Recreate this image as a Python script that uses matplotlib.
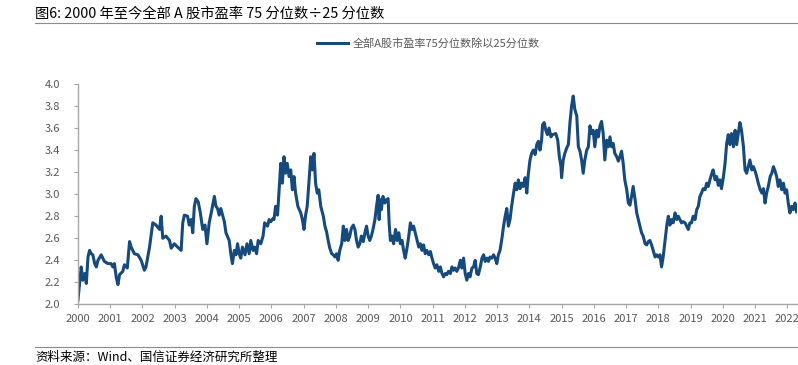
import matplotlib.pyplot as plt
from matplotlib.lines import Line2D

plt.rcParams['font.family'] = ['Noto Sans CJK SC', 'DejaVu Sans']

# decimal year, ratio
years_a = [2000.00, 2000.05, 2000.10, 2000.15, 2000.21, 2000.26, 2000.31, 2000.36, 2000.41, 2000.46,
           2000.52, 2000.57, 2000.62, 2000.72, 2000.82, 2000.93, 2001.03, 2001.08, 2001.13, 2001.19,
           2001.24, 2001.29, 2001.39, 2001.44, 2001.53, 2001.60, 2001.65, 2001.70, 2001.75, 2001.86,
           2001.96, 2002.06, 2002.11, 2002.22, 2002.32, 2002.42, 2002.53, 2002.58, 2002.63, 2002.73,
           2002.84, 2002.89, 2002.99, 2003.09, 2003.20, 2003.25, 2003.30, 2003.40, 2003.45, 2003.51,
           2003.56, 2003.61, 2003.66, 2003.73, 2003.79, 2003.87, 2003.94, 2004.00, 2004.07, 2004.14,
           2004.23, 2004.28, 2004.33, 2004.38, 2004.43, 2004.54, 2004.59, 2004.69, 2004.74, 2004.79,
           2004.85, 2004.90, 2004.95, 2005.00, 2005.05, 2005.10, 2005.18, 2005.24, 2005.31, 2005.36,
           2005.43, 2005.48, 2005.54, 2005.59, 2005.67, 2005.74, 2005.79, 2005.88, 2005.93, 2005.98,
           2006.05, 2006.08, 2006.13, 2006.19, 2006.24, 2006.29, 2006.34, 2006.39, 2006.44, 2006.49,
           2006.55, 2006.60, 2006.65, 2006.70, 2006.75, 2006.82, 2006.91, 2006.96, 2007.01, 2007.06,
           2007.11, 2007.16, 2007.22, 2007.27, 2007.32, 2007.37, 2007.42, 2007.47, 2007.53]
ratio_a = [2.04, 2.19, 2.34, 2.22, 2.28, 2.19, 2.43, 2.49, 2.46, 2.45,
           2.37, 2.34, 2.40, 2.45, 2.39, 2.37, 2.37, 2.34, 2.37, 2.24,
           2.18, 2.27, 2.30, 2.36, 2.33, 2.57, 2.52, 2.49, 2.46, 2.45,
           2.40, 2.31, 2.34, 2.52, 2.74, 2.72, 2.68, 2.80, 2.60, 2.62,
           2.58, 2.51, 2.55, 2.52, 2.49, 2.74, 2.81, 2.80, 2.72, 2.77,
           2.65, 2.89, 2.96, 2.93, 2.84, 2.68, 2.72, 2.55, 2.74, 2.84,
           2.98, 2.89, 2.87, 2.81, 2.87, 2.75, 2.65, 2.58, 2.46, 2.37,
           2.49, 2.45, 2.55, 2.46, 2.42, 2.52, 2.45, 2.55, 2.46, 2.58,
           2.49, 2.52, 2.46, 2.58, 2.55, 2.62, 2.74, 2.71, 2.77, 2.75,
           2.78, 2.77, 2.89, 2.81, 3.04, 3.28, 3.10, 3.34, 3.19, 3.28,
           3.16, 3.22, 3.04, 3.16, 3.01, 2.89, 2.83, 2.77, 2.68, 2.81,
           2.89, 3.10, 3.34, 3.22, 3.37, 3.10, 3.01, 3.04, 2.89]

years_b = [2007.61, 2007.66, 2007.71, 2007.76, 2007.81, 2007.87, 2007.92, 2007.97, 2008.02, 2008.07,
           2008.12, 2008.18, 2008.23, 2008.28, 2008.33, 2008.38, 2008.43, 2008.48, 2008.54, 2008.59,
           2008.64, 2008.69, 2008.74, 2008.79, 2008.85, 2008.90, 2008.95, 2009.00, 2009.05, 2009.10,
           2009.15, 2009.21, 2009.26, 2009.31, 2009.34, 2009.38, 2009.41, 2009.46, 2009.52, 2009.57,
           2009.62, 2009.65, 2009.69, 2009.74, 2009.79, 2009.85, 2009.90, 2009.95, 2010.00, 2010.05,
           2010.10, 2010.15, 2010.21, 2010.26, 2010.31, 2010.36, 2010.41, 2010.46, 2010.52, 2010.57,
           2010.62, 2010.67, 2010.72, 2010.77, 2010.82, 2010.88, 2010.93, 2010.98, 2011.03, 2011.08,
           2011.13, 2011.19, 2011.24, 2011.29, 2011.34, 2011.39, 2011.44, 2011.49, 2011.55, 2011.60,
           2011.65, 2011.70, 2011.75, 2011.80, 2011.86, 2011.91, 2011.96, 2012.01, 2012.06, 2012.11,
           2012.16, 2012.22, 2012.27, 2012.32, 2012.37, 2012.42, 2012.47, 2012.53, 2012.58, 2012.63,
           2012.68, 2012.73, 2012.78, 2012.84, 2012.89, 2012.94, 2012.99, 2013.04, 2013.09, 2013.14,
           2013.20, 2013.25, 2013.30, 2013.35, 2013.40, 2013.45, 2013.51, 2013.56, 2013.61, 2013.66,
           2013.71, 2013.76, 2013.81, 2013.87, 2013.92, 2013.97, 2014.02, 2014.07, 2014.12, 2014.18,
           2014.23, 2014.28, 2014.33, 2014.38, 2014.41, 2014.46, 2014.51, 2014.56, 2014.61, 2014.67,
           2014.72]
ratio_b = [2.80, 2.71, 2.66, 2.58, 2.51, 2.46, 2.45, 2.43, 2.46, 2.40,
           2.49, 2.55, 2.71, 2.58, 2.68, 2.58, 2.62, 2.69, 2.72, 2.68,
           2.58, 2.52, 2.55, 2.62, 2.57, 2.65, 2.71, 2.62, 2.58, 2.62,
           2.68, 2.77, 2.89, 2.99, 2.77, 2.95, 2.86, 2.98, 2.92, 2.95,
           2.96, 2.74, 2.58, 2.62, 2.55, 2.68, 2.58, 2.65, 2.55, 2.58,
           2.49, 2.42, 2.52, 2.62, 2.74, 2.68, 2.71, 2.65, 2.58, 2.52,
           2.55, 2.49, 2.54, 2.46, 2.49, 2.45, 2.48, 2.42, 2.37, 2.33,
           2.36, 2.30, 2.34, 2.28, 2.25, 2.28, 2.27, 2.30, 2.28, 2.34,
           2.31, 2.33, 2.30, 2.33, 2.40, 2.33, 2.42, 2.28, 2.22, 2.28,
           2.25, 2.33, 2.34, 2.40, 2.28, 2.27, 2.33, 2.42, 2.45, 2.39,
           2.42, 2.39, 2.43, 2.42, 2.45, 2.42, 2.37, 2.45, 2.49, 2.58,
           2.71, 2.80, 2.87, 2.71, 2.77, 2.89, 3.01, 3.10, 3.04, 3.13,
           3.05, 3.10, 3.07, 3.15, 3.01, 3.19, 3.31, 3.37, 3.40, 3.36,
           3.45, 3.48, 3.40, 3.49, 3.63, 3.65, 3.58, 3.54, 3.60, 3.52,
           3.54]

years_c = [2014.82, 2014.88, 2014.93, 2014.98, 2015.00, 2015.05, 2015.10, 2015.16, 2015.21, 2015.26,
           2015.31, 2015.36, 2015.41, 2015.47, 2015.52, 2015.57, 2015.62, 2015.67, 2015.72, 2015.78,
           2015.83, 2015.88, 2015.93, 2015.98, 2016.03, 2016.09, 2016.14, 2016.19, 2016.24, 2016.29,
           2016.34, 2016.40, 2016.45, 2016.50, 2016.55, 2016.60, 2016.65, 2016.71, 2016.76, 2016.81,
           2016.86, 2016.91, 2016.96, 2017.02, 2017.07, 2017.12, 2017.17, 2017.22, 2017.28, 2017.33,
           2017.38, 2017.43, 2017.48, 2017.53, 2017.59, 2017.64, 2017.69, 2017.74, 2017.79, 2017.84,
           2017.90, 2017.95, 2018.00, 2018.05, 2018.10, 2018.15, 2018.21, 2018.26, 2018.31, 2018.36,
           2018.41, 2018.46, 2018.52, 2018.57, 2018.62, 2018.67, 2018.72, 2018.77, 2018.83, 2018.88,
           2018.93, 2018.98, 2019.03, 2019.08, 2019.14, 2019.19, 2019.24, 2019.29, 2019.34, 2019.39,
           2019.45, 2019.50, 2019.55, 2019.60, 2019.65, 2019.70, 2019.76, 2019.81, 2019.86, 2019.91,
           2019.96, 2020.02, 2020.07, 2020.12, 2020.17, 2020.22, 2020.27, 2020.33, 2020.38, 2020.43,
           2020.48, 2020.53, 2020.58, 2020.64, 2020.69, 2020.74, 2020.79, 2020.84, 2020.90, 2020.95,
           2021.00, 2021.05, 2021.10, 2021.16, 2021.21, 2021.26, 2021.31, 2021.36, 2021.41, 2021.47,
           2021.52, 2021.57, 2021.62, 2021.67, 2021.72, 2021.77, 2021.83, 2021.88, 2021.93, 2021.98,
           2022.03, 2022.08, 2022.14, 2022.19, 2022.24, 2022.29]
ratio_c = [3.55, 3.49, 3.34, 3.25, 3.15, 3.31, 3.37, 3.42, 3.45, 3.65,
           3.80, 3.89, 3.77, 3.71, 3.43, 3.39, 3.31, 3.19, 3.31, 3.40,
           3.43, 3.62, 3.55, 3.58, 3.43, 3.58, 3.52, 3.62, 3.66, 3.55,
           3.31, 3.49, 3.43, 3.52, 3.43, 3.46, 3.37, 3.34, 3.30, 3.34,
           3.39, 3.28, 3.13, 3.04, 2.92, 2.90, 2.98, 3.07, 2.95, 2.83,
           2.77, 2.71, 2.65, 2.62, 2.55, 2.54, 2.57, 2.58, 2.54, 2.49,
           2.43, 2.45, 2.43, 2.45, 2.34, 2.43, 2.58, 2.71, 2.80, 2.72,
           2.77, 2.74, 2.83, 2.77, 2.80, 2.77, 2.74, 2.75, 2.74, 2.71,
           2.68, 2.74, 2.74, 2.80, 2.77, 2.86, 2.89, 2.98, 3.01, 3.05,
           3.04, 3.10, 3.07, 3.13, 3.18, 3.22, 3.13, 3.16, 3.08, 3.13,
           3.05, 3.16, 3.28, 3.46, 3.54, 3.45, 3.55, 3.43, 3.58, 3.45,
           3.55, 3.65, 3.58, 3.43, 3.22, 3.19, 3.25, 3.31, 3.22, 3.25,
           3.21, 3.16, 3.10, 3.04, 3.01, 3.05, 2.92, 3.01, 3.07, 3.16,
           3.19, 3.25, 3.21, 3.16, 3.07, 3.13, 3.04, 3.10, 3.01, 3.04,
           2.92, 2.83, 2.89, 2.86, 2.92, 2.84]

years = years_a + years_b + years_c
ratio = ratio_a + ratio_b + ratio_c

year_ticks = list(range(2000, 2023))
y_ticks = [2.0, 2.2, 2.4, 2.6, 2.8, 3.0, 3.2, 3.4, 3.6, 3.8, 4.0]

fig = plt.figure(figsize=(7.98, 3.65), dpi=100)
ax = fig.add_axes([0.0977, 0.166, 0.901, 0.604])

ax.plot(years, ratio, color='#174a7c', lw=2.2, label='全部A股市盈率75分位数除以25分位数')

ax.set_xlim(2000, 2022.3)
ax.set_ylim(2.0, 4.0)
ax.set_xticks(year_ticks)
ax.set_xticklabels([str(y) for y in year_ticks])
ax.set_yticks(y_ticks)
ax.set_yticklabels(['%.1f' % v for v in y_ticks])
ax.tick_params(axis='both', colors='#a6a6a6', labelcolor='#595959', labelsize=8,
               length=3, width=0.8, direction='out')
ax.tick_params(axis='x', pad=4)
ax.tick_params(axis='y', pad=10)
for s in ['top', 'right']:
    ax.spines[s].set_visible(False)
for s in ['left', 'bottom']:
    ax.spines[s].set_color('#a6a6a6')
    ax.spines[s].set_linewidth(1.0)

leg = ax.legend(loc='upper center', bbox_to_anchor=(0.4875, 1.255), frameon=False,
                fontsize=8, handlelength=2.8, handletextpad=0.4)
for t in leg.get_texts():
    t.set_color('#595959')

fig.text(0.044, 0.962, '图6: 2000 年至今全部 A 股市盈率 75 分位数÷25 分位数',
         fontsize=10.3, va='center', ha='left', color='#000000')
fig.add_artist(Line2D([0.044, 1.0], [0.937, 0.937], color='#8c8c8c', lw=0.8))
fig.add_artist(Line2D([0.044, 1.0], [0.049, 0.049], color='#8c8c8c', lw=0.8))
fig.text(0.044, 0.022, '资料来源：Wind、国信证券经济研究所整理',
         fontsize=9, va='center', ha='left', color='#000000')

fig.savefig('out.png', dpi=100)
